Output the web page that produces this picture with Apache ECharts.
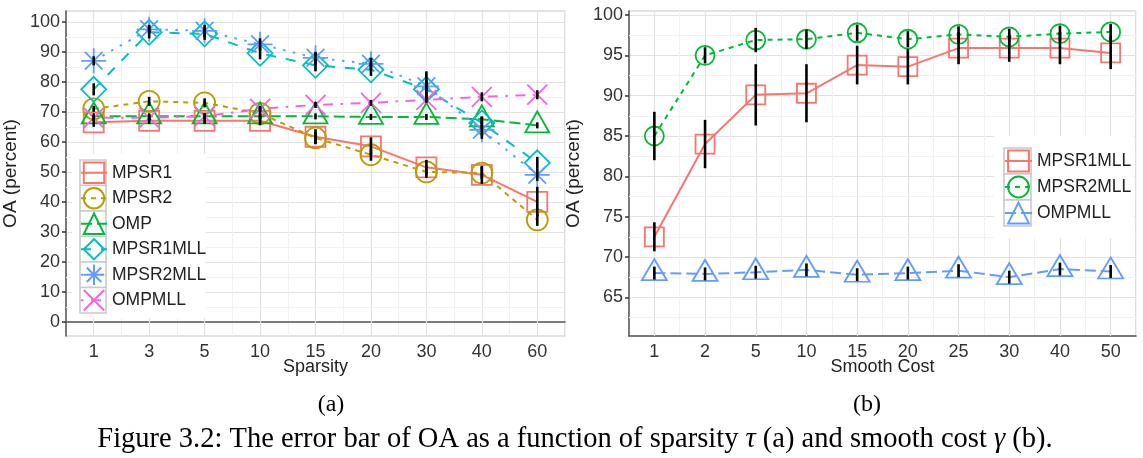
<!DOCTYPE html>
<html><head><meta charset="utf-8">
<script src="https://cdn.jsdelivr.net/npm/echarts@6/dist/echarts.min.js"></script>
<style>html,body{margin:0;padding:0;background:#fff}#c{width:1143px;height:458px}</style>
</head><body><div id="c"></div>
<script>
// ---------- data: panel (a) ----------
const sparsityLabels = ['1','3','5','10','15','20','30','40','60'];
const mpsr1    = [66.5, 67,   67,   67,   61.7, 58.5, 51.5, 49,   40];
const mpsr2    = [71,   73.5, 73,   69.5, 61.3, 55.7, 50,   49.6, 34];
const omp      = [68.5, 68.5, 68.5, 68.5, 68.5, 68.3, 68.3, 67.5, 65.5];
const mpsr1mll = [77.5, 96.5, 96,   89.5, 85.5, 84,   77.5, 66.3, 53];
const mpsr2mll = [87,   97.5, 97,   92.5, 88,   86,   78.5, 64,   49];
const ompmll   = [68,   68,   68.5, 71,   72.3, 73,   74,   75,   75.7];
const mpsr1Err    = [1.5, 1,   1,   1.5, 2.5, 3,   2.5, 3,   5];
const mpsr2Err    = [1,   1.5, 1.5, 2,   2,   2,   2,   2,   2];
const ompErr      = [1,   1,   1,   1,   1,   1,   1,   1,   1];
const mpsr1mllErr = [2,   2,   2,   2,   2,   2,   3,   2,   2];
const mpsr2mllErr = [1.5, 1.5, 2,   2,   2,   2,   5,   3,   2];
const ompmllErr   = [1,   1,   1,   1,   1,   1,   1,   1.5, 1.5];

// ---------- data: panel (b) ----------
const smoothLabels = ['1','2','5','10','15','20','25','30','40','50'];
const bMpsr1mll = [72.5, 84,   90.1, 90.3, 93.8, 93.6, 95.9, 95.9, 95.9, 95.3];
const bMpsr2mll = [85,   95,   96.9, 97,   97.8, 97,   97.6, 97.3, 97.7, 97.9];
const bOmpmll   = [68,   67.9, 68.1, 68.4, 67.8, 68,   68.3, 67.5, 68.5, 68.2];
const bMpsr1mllErr = [1.8, 3,   3.8, 3.6, 2.4, 2.2, 2,   1.7, 2,   2];
const bMpsr2mllErr = [3,   1,   1.5, 1.2, 1,   1,   1,   1,   1,   1];
const bOmpmllErr   = [0.8, 0.8, 0.8, 0.8, 0.8, 0.8, 0.8, 0.8, 0.8, 0.8];

// ---------- styling ----------
const FONT = '"Liberation Sans", Arial, sans-serif';
const SERIF = '"Liberation Serif", "Times New Roman", serif';
const C = {red:'#F8766D', olive:'#B79F00', green:'#00BA38', cyan:'#00BFC4', blue:'#619CFF', pink:'#F564E3'};
const STAR = 'path://M0,-10L0,10M-10,0L10,0M-7.07,-7.07L7.07,7.07M-7.07,7.07L7.07,-7.07';
const XMARK = 'path://M-10,-10L10,10M-10,10L10,-10';
const MAJOR = '#e2e2e2', MINOR = '#f1f1f1';

function lineSeries(name, data, color, symbol, size, dash, xi, extra) {
  return Object.assign({
    name, type:'line', data, xAxisIndex:xi, yAxisIndex:xi, z:2,
    symbol, symbolSize:size, showSymbol:true, showAllSymbol:true,
    lineStyle:{color, width:2, type:dash},
    itemStyle:{color:'rgba(0,0,0,0)', borderColor:color, borderWidth:1.8},
    emphasis:{disabled:true}, animation:false
  }, extra || {});
}
function errSeries(sets, xi) {
  const data = [];
  sets.forEach(([vals, errs]) => vals.forEach((v, i) => data.push([i, v - errs[i], v + errs[i]])));
  return {
    type:'custom', xAxisIndex:xi, yAxisIndex:xi, z:3, silent:true, animation:false, data,
    renderItem(params, api) {
      const a = api.coord([api.value(0), api.value(1)]);
      const b = api.coord([api.value(0), api.value(2)]);
      return {type:'rect', shape:{x:a[0] - 1.3, y:b[1], width:2.6, height:a[1] - b[1]}, style:{fill:'#000'}};
    }
  };
}
function gridSeries(xi, cats, minorVals) {
  return {
    type:'line', data:[], xAxisIndex:xi, yAxisIndex:xi, z:1, silent:true, animation:false,
    markLine:{
      z:1, silent:true, symbol:'none', animation:false, label:{show:false},
      data: cats.map(c => ({xAxis:c, lineStyle:{color:MAJOR, width:1.2, type:'solid'}}))
        .concat(minorVals.map(v => ({yAxis:v, lineStyle:{color:MINOR, width:1, type:'solid'}})))
    }
  };
}
const minorA = []; for (let v = 5; v < 100; v += 10) minorA.push(v);
const minorB = []; for (let v = 62.5; v < 100; v += 5) minorB.push(v);

function xAxis(gi, cats, name) {
  return {
    type:'category', gridIndex:gi, data:cats, boundaryGap:true,
    name, nameLocation:'middle', nameGap:22, nameMoveOverlap:false,
    nameTextStyle:{fontFamily:FONT, fontSize:18, color:'#222'},
    axisLine:{lineStyle:{color:'#555', width:1.5}},
    axisTick:{alignWithLabel:true, length:4, lineStyle:{color:'#333', width:1.5}},
    axisLabel:{fontFamily:FONT, fontSize:18, color:'#333', margin:7},
    splitLine:{show:true, lineStyle:{color:MINOR, width:1}}
  };
}
function yAxis(gi, min, max, splitNumber) {
  return {
    type:'value', gridIndex:gi, min, max, splitNumber,
    name:'OA (percent)', nameLocation:'middle', nameGap:46, nameRotate:90, nameMoveOverlap:false,
    nameTextStyle:{fontFamily:FONT, fontSize:19, color:'#222'},
    axisLine:{show:true, lineStyle:{color:'#555', width:1.5}},
    axisTick:{show:true, length:4, lineStyle:{color:'#333', width:1.5}},
    axisLabel:{fontFamily:FONT, fontSize:18, color:'#333', margin:6, showMinLabel:false, showMaxLabel:false},
    splitLine:{show:true, lineStyle:{color:MAJOR, width:1.2}}
  };
}

const graphics = [];
// legend panels (white background + grey key boxes), drawn on an upper layer
graphics.push({type:'rect', zlevel:1, z:1, shape:{x:72, y:154, width:134, height:164}, style:{fill:'#fff'}});
for (let i = 0; i < 6; i++) graphics.push({type:'rect', zlevel:1, z:2, shape:{x:80, y:160 + i*25.5, width:26, height:25.5}, style:{fill:'#fff', stroke:'#cacaca', lineWidth:1.6}});
graphics.push({type:'rect', zlevel:1, z:1, shape:{x:994, y:136, width:140, height:102}, style:{fill:'#fff'}});
for (let i = 0; i < 3; i++) graphics.push({type:'rect', zlevel:1, z:2, shape:{x:1004, y:148 + i*26, width:27, height:26}, style:{fill:'#fff', stroke:'#cacaca', lineWidth:1.6}});
// sub-captions and figure caption
graphics.push({type:'text', z:5, style:{text:'(a)', x:331, y:405, align:'center', verticalAlign:'middle', font:'24px ' + SERIF, fill:'#000'}});
graphics.push({type:'text', z:5, style:{text:'(b)', x:867, y:405, align:'center', verticalAlign:'middle', font:'24px ' + SERIF, fill:'#000'}});
graphics.push({type:'text', z:5, style:{
  text:'Figure 3.2: The error bar of OA as a function of sparsity {i|τ} (a) and smooth cost {i|γ} (b).',
  x:575, y:440, align:'center', verticalAlign:'middle', font:'28.5px ' + SERIF, fill:'#000',
  rich:{i:{fontStyle:'italic', fontFamily:SERIF, fontSize:28.5, fill:'#000'}}
}});

const legendText = {fontFamily:FONT, fontSize:17.5, color:'#222', lineHeight:25.5};
const option = {
  backgroundColor:'#fff',
  animation:false,
  grid:[
    {left:58, top:11, width:507, height:325, show:true, borderColor:'#c8c8c8', borderWidth:1.2, backgroundColor:'#fff'},
    {left:629, top:11, width:507, height:325, show:true, borderColor:'#c8c8c8', borderWidth:1.2, backgroundColor:'#fff'}
  ],
  xAxis:[xAxis(0, sparsityLabels, 'Sparsity'), xAxis(1, smoothLabels, 'Smooth Cost')],
  yAxis:[yAxis(0, -4.7, 103.6, 11), yAxis(1, 60.2, 100.5, 8)],
  legend:[
    {data:['MPSR1','MPSR2','OMP','MPSR1MLL','MPSR2MLL','OMPMLL'], orient:'vertical', left:80, top:160,
     itemWidth:26, itemHeight:25.5, itemGap:0, textStyle:legendText, selectedMode:false, padding:0, zlevel:1, z:5},
    {data:['b:MPSR1MLL','b:MPSR2MLL','b:OMPMLL'], orient:'vertical', left:1004, top:148,
     itemWidth:27, itemHeight:26, itemGap:0, textStyle:Object.assign({}, legendText, {lineHeight:26}),
     selectedMode:false, padding:0, zlevel:1, z:5,
     formatter:n => n.replace(/^b:/, '')}
  ],
  graphic:{elements:graphics},
  series:[
    gridSeries(0, sparsityLabels, minorA),
    gridSeries(1, smoothLabels, minorB),
    lineSeries('MPSR1', mpsr1, C.red, 'rect', 20, 'solid', 0),
    lineSeries('MPSR2', mpsr2, C.olive, 'circle', 21, [5,5], 0),
    lineSeries('OMP', omp, C.green, 'triangle', [24,21], [11,5], 0, {symbolOffset:[0,-3.5]}),
    lineSeries('MPSR1MLL', mpsr1mll, C.cyan, 'diamond', 25, [10,10], 0),
    lineSeries('MPSR2MLL', mpsr2mll, C.blue, STAR, 25, [2.5,7.5], 0),
    lineSeries('OMPMLL', ompmll, C.pink, XMARK, 20, [2.5,7.5,10,7.5], 0),
    errSeries([[mpsr1,mpsr1Err],[mpsr2,mpsr2Err],[omp,ompErr],[mpsr1mll,mpsr1mllErr],[mpsr2mll,mpsr2mllErr],[ompmll,ompmllErr]], 0),
    lineSeries('b:MPSR1MLL', bMpsr1mll, C.red, 'rect', 19, 'solid', 1),
    lineSeries('b:MPSR2MLL', bMpsr2mll, C.green, 'circle', 19, [5,5], 1),
    lineSeries('b:OMPMLL', bOmpmll, C.blue, 'triangle', [25,21], [11,5], 1, {symbolOffset:[0,-3.5]}),
    errSeries([[bMpsr1mll,bMpsr1mllErr],[bMpsr2mll,bMpsr2mllErr],[bOmpmll,bOmpmllErr]], 1)
  ]
};
const chart = echarts.init(document.getElementById('c'), null, {renderer:'canvas'});
chart.setOption(option);
</script></body></html>
